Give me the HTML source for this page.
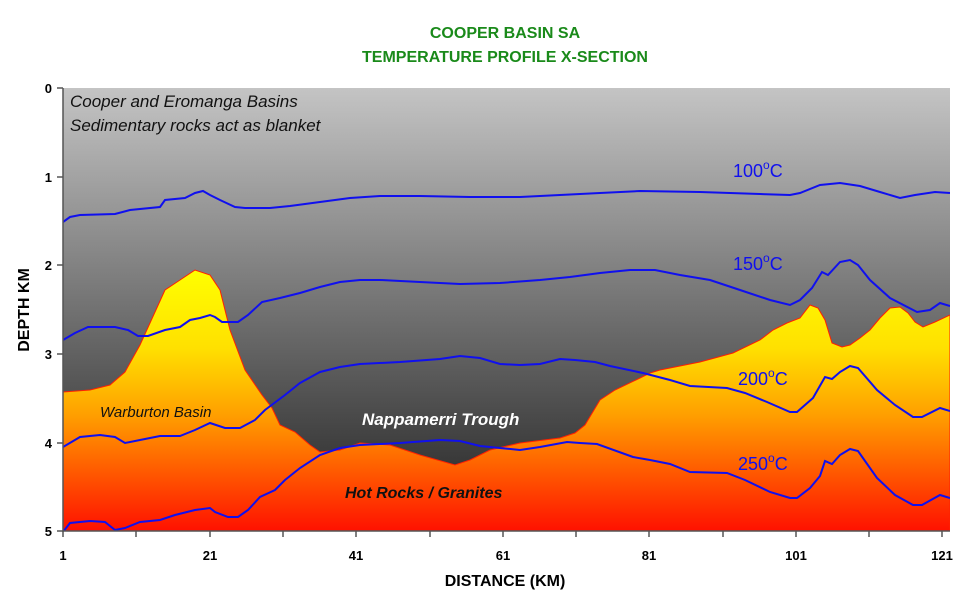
<!DOCTYPE html>
<html><head><meta charset="utf-8"><style>body{margin:0;background:#fff}svg{display:block}</style></head><body>
<svg width="980" height="602" xmlns="http://www.w3.org/2000/svg" font-family="Liberation Sans, Arial, sans-serif">
<defs>
<linearGradient id="g" x1="0" y1="88" x2="0" y2="470" gradientUnits="userSpaceOnUse"><stop offset="0" stop-color="#c4c4c4"/><stop offset="1" stop-color="#363636"/></linearGradient>
<linearGradient id="h" x1="0" y1="270" x2="0" y2="532" gradientUnits="userSpaceOnUse"><stop offset="0" stop-color="#ffff00"/><stop offset="0.3" stop-color="#ffe000"/><stop offset="0.55" stop-color="#ffa000"/><stop offset="0.8" stop-color="#ff5000"/><stop offset="1" stop-color="#ff1000"/></linearGradient>
<clipPath id="c"><rect x="63" y="88" width="887" height="443"/></clipPath>
</defs>
<text x="505" y="38" text-anchor="middle" font-size="16" font-weight="bold" fill="#1a8a1a">COOPER BASIN SA</text>
<text x="505" y="62" text-anchor="middle" font-size="16" font-weight="bold" fill="#1a8a1a">TEMPERATURE PROFILE X-SECTION</text>
<g clip-path="url(#c)">
<rect x="63" y="88" width="887" height="444" fill="url(#g)"/>
<polygon fill="url(#h)" stroke="#ff2000" stroke-width="1" points="63,392 90,390 110,385 125,372 140,345 165,290 180,280 195,270 210,275 220,290 230,330 245,370 262,395 272,408 280,425 295,432 310,445 320,452 340,450 360,443 390,445 420,455 455,465 470,460 490,450 520,443 560,438 575,433 585,425 600,400 615,390 640,378 650,373 660,370 700,362 733,353 760,340 773,330 787,323 800,318 810,305 818,308 825,320 832,343 842,347 850,345 860,338 870,330 880,318 890,308 900,307 908,313 915,322 923,327 935,322 950,315 950,540 63,540"/>
<g fill="none" stroke="#1010ee" stroke-width="2">
<polyline points="63,222 70,217 80,215 115,214 130,210 160,207 165,200 185,198 195,193 203,191 210,195 220,200 235,207 245,208 270,208 290,206 320,202 350,198 380,196 420,196 470,197 520,197 560,195 600,193 640,191 700,192 760,194 790,195 800,193 820,185 840,183 860,186 880,192 900,198 915,195 935,192 950,193"/>
<polyline points="63,340 75,333 88,327 115,327 128,330 138,336 148,336 165,330 180,327 190,320 200,318 210,315 215,317 222,322 238,322 248,315 262,302 280,298 300,293 320,287 340,282 360,280 380,280 420,282 460,284 500,283 540,280 570,277 600,273 630,270 655,270 680,275 710,280 740,290 770,300 790,305 800,300 812,288 822,272 828,275 840,262 850,260 858,265 870,280 890,298 917,312 930,310 940,303 950,306"/>
<polyline points="63,447 80,437 100,435 115,437 125,443 140,440 160,436 180,436 195,430 210,423 225,428 240,428 255,420 265,410 285,395 300,383 320,372 340,367 360,364 400,362 440,359 460,356 480,358 500,364 520,365 540,364 560,359 575,360 595,362 610,366 643,373 670,380 690,386 727,388 745,393 767,402 790,412 797,412 813,398 825,377 832,379 840,372 850,366 858,368 877,390 895,405 913,417 922,417 940,408 950,411"/>
<polyline points="63,532 70,523 90,521 105,522 115,530 125,528 140,522 160,520 175,515 195,510 210,508 215,512 228,517 238,517 248,510 260,497 275,490 285,480 300,468 320,455 340,448 360,445 400,443 440,440 460,441 480,446 500,448 520,450 540,447 567,442 580,443 597,444 633,457 650,460 670,464 690,472 727,473 745,480 770,492 790,498 797,498 810,488 820,476 825,461 832,464 840,455 850,449 858,451 877,478 895,495 913,505 922,505 940,495 950,498"/>
</g>
</g>
<g stroke="#555" stroke-width="1.5" fill="none">
<line x1="63" y1="88" x2="63" y2="532"/><line x1="63" y1="531" x2="950" y2="531"/>
<line x1="57" y1="88" x2="63" y2="88"/><line x1="57" y1="177" x2="63" y2="177"/><line x1="57" y1="265" x2="63" y2="265"/><line x1="57" y1="354" x2="63" y2="354"/><line x1="57" y1="443" x2="63" y2="443"/><line x1="57" y1="531" x2="63" y2="531"/>
<line x1="63" y1="531" x2="63" y2="537"/><line x1="136" y1="531" x2="136" y2="537"/><line x1="210" y1="531" x2="210" y2="537"/><line x1="283" y1="531" x2="283" y2="537"/><line x1="356" y1="531" x2="356" y2="537"/><line x1="430" y1="531" x2="430" y2="537"/><line x1="503" y1="531" x2="503" y2="537"/><line x1="576" y1="531" x2="576" y2="537"/><line x1="649" y1="531" x2="649" y2="537"/><line x1="723" y1="531" x2="723" y2="537"/><line x1="796" y1="531" x2="796" y2="537"/><line x1="869" y1="531" x2="869" y2="537"/><line x1="942" y1="531" x2="942" y2="537"/>
</g>
<g font-size="13" font-weight="bold" fill="#000" text-anchor="end">
<text x="52" y="93">0</text><text x="52" y="182">1</text><text x="52" y="270">2</text><text x="52" y="359">3</text><text x="52" y="448">4</text><text x="52" y="536">5</text>
</g>
<g font-size="13" font-weight="bold" fill="#000" text-anchor="middle">
<text x="63" y="560">1</text><text x="210" y="560">21</text><text x="356" y="560">41</text><text x="503" y="560">61</text><text x="649" y="560">81</text><text x="796" y="560">101</text><text x="942" y="560">121</text>
</g>
<text x="505" y="586" text-anchor="middle" font-size="16" font-weight="bold">DISTANCE (KM)</text>
<text transform="translate(29,310) rotate(-90)" text-anchor="middle" font-size="16" font-weight="bold">DEPTH KM</text>
<g font-size="17" font-style="italic" fill="#111">
<text x="70" y="107">Cooper  and Eromanga Basins</text>
<text x="70" y="131">Sedimentary rocks act as blanket</text>
</g>
<text x="100" y="417" font-size="15" font-style="italic" fill="#111">Warburton Basin</text>
<text x="362" y="425" font-size="17" font-style="italic" font-weight="bold" fill="#fff">Nappamerri Trough</text>
<text x="345" y="498" font-size="16" font-style="italic" font-weight="bold" fill="#111">Hot Rocks / Granites</text>
<g font-size="18" fill="#1010ee">
<text x="733" y="177">100<tspan font-size="12" dy="-8">o</tspan><tspan dy="8">C</tspan></text>
<text x="733" y="270">150<tspan font-size="12" dy="-8">o</tspan><tspan dy="8">C</tspan></text>
<text x="738" y="385">200<tspan font-size="12" dy="-8">o</tspan><tspan dy="8">C</tspan></text>
<text x="738" y="470">250<tspan font-size="12" dy="-8">o</tspan><tspan dy="8">C</tspan></text>
</g>
</svg>
</body></html>
